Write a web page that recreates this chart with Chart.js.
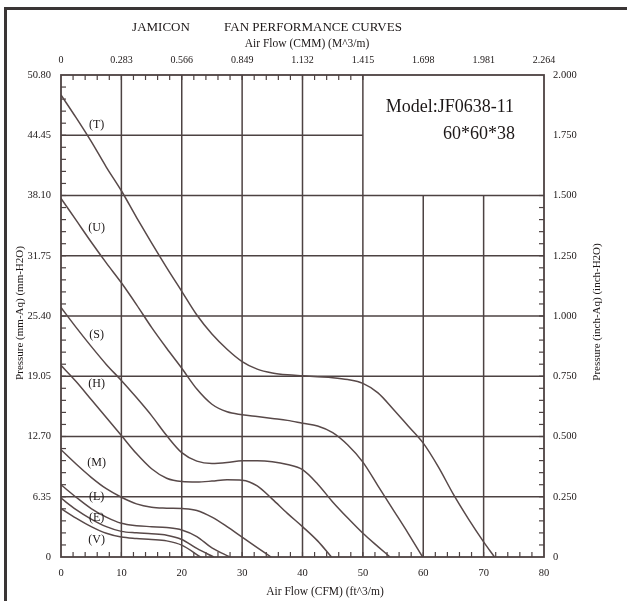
<!DOCTYPE html>
<html>
<head>
<meta charset="utf-8">
<title>JAMICON Fan Performance Curves</title>
<style>
    html, body { margin: 0; padding: 0; background: #fff; }
    #wrap { width: 627px; height: 601px; position: relative; }
</style>
</head>
<body>
<div id="wrap"><canvas id="fanChart" width="627" height="601"></canvas></div>
<script src="https://cdn.jsdelivr.net/npm/chart.js@4.4.1/dist/chart.umd.min.js"></script>
<script>
// Tick values and labels
const cfmTicks = [0, 10, 20, 30, 40, 50, 60, 70, 80];
const cfmLabels = ['0', '10', '20', '30', '40', '50', '60', '70', '80'];
const cmmLabels = ['0', '0.283', '0.566', '0.849', '1.132', '1.415', '1.698', '1.981', '2.264'];
const mmTicks = [0, 6.35, 12.70, 19.05, 25.40, 31.75, 38.10, 44.45, 50.80];
const mmLabels = ['0', '6.35', '12.70', '19.05', '25.40', '31.75', '38.10', '44.45', '50.80'];
const inchLabels = ['0', '0.250', '0.500', '0.750', '1.000', '1.250', '1.500', '1.750', '2.000'];

// Curves: air flow (CFM) and static pressure (mm-Aq)
const tFlow = [0, 2.5, 5, 7.5, 10, 12.5, 15, 17.5, 20, 22.5, 25, 27.5, 30, 32.5, 35, 37.5, 40, 42.5, 45, 47.5, 50, 52.5, 55, 57.5, 60, 62.5, 65, 67.5, 70, 71.8];
const tPres = [48.7, 46.3, 43.8, 41.1, 38.6, 35.8, 33.1, 30.5, 28.0, 25.5, 23.5, 21.9, 20.6, 19.8, 19.4, 19.2, 19.1, 19.0, 18.9, 18.7, 18.3, 17.3, 15.6, 13.8, 12.0, 9.5, 6.6, 4.0, 1.6, 0];
const uFlow = [0, 2.5, 5, 7.5, 10, 12.5, 15, 17.5, 20, 22.5, 25, 27.5, 30, 32.5, 35, 37.5, 40, 42.5, 45, 47.5, 50, 52.5, 55, 57.5, 59.9];
const uPres = [37.8, 35.5, 33.2, 31.0, 28.9, 26.6, 24.2, 22.0, 19.9, 17.7, 16.1, 15.3, 15.0, 14.8, 14.6, 14.4, 14.1, 13.8, 13.1, 11.8, 10.0, 7.5, 5.0, 2.5, 0];
const sFlow = [0, 2.5, 5, 7.5, 10, 12.5, 15, 17.5, 20, 22.5, 25, 27.5, 30, 32.5, 35, 37.5, 40, 42.5, 45, 47.5, 50, 52.5, 54.5];
const sPres = [26.3, 24.2, 22.2, 20.3, 18.6, 16.8, 14.9, 12.8, 11.0, 10.1, 9.85, 9.95, 10.15, 10.15, 10.05, 9.75, 9.2, 7.7, 5.8, 4.1, 2.5, 1.1, 0];
const hFlow = [0, 2.5, 5, 7.5, 10, 12.5, 15, 17.5, 20, 22.5, 25, 27.5, 30, 32.5, 35, 37.5, 40, 42.5, 44.8];
const hPres = [20.2, 18.5, 16.6, 14.7, 12.8, 10.9, 9.3, 8.3, 7.95, 7.9, 8.0, 8.15, 8.1, 7.5, 6.1, 4.6, 3.2, 1.7, 0];
const mFlow = [0, 2.5, 5, 7.5, 10, 12.5, 15, 17.5, 20, 22.5, 25, 27.5, 30, 32.5, 34.8];
const mPres = [11.3, 9.8, 8.4, 7.2, 6.3, 5.6, 5.25, 5.15, 5.1, 4.9, 4.2, 3.2, 2.1, 1.0, 0];
const lFlow = [0, 2.5, 5, 7.5, 10, 12.5, 15, 17.5, 20, 22.5, 25, 28];
const lPres = [7.6, 6.3, 5.1, 4.2, 3.55, 3.3, 3.2, 3.1, 2.85, 2.15, 0.95, 0];
const eFlow = [0, 2.5, 5, 7.5, 10, 12.5, 15, 17.5, 20, 22.5, 25.3];
const ePres = [6.2, 5.0, 4.0, 3.2, 2.7, 2.55, 2.45, 2.3, 1.85, 0.9, 0];
const vFlow = [0, 2.5, 5, 7.5, 10, 12.5, 15, 17.5, 20, 23.1];
const vPres = [5.1, 4.1, 3.2, 2.5, 2.1, 1.95, 1.85, 1.7, 1.25, 0];

const curveNames = ['T', 'U', 'S', 'H', 'M', 'L', 'E', 'V'];
const curveFlows = [tFlow, uFlow, sFlow, hFlow, mFlow, lFlow, eFlow, vFlow];
const curvePress = [tPres, uPres, sPres, hPres, mPres, lPres, ePres, vPres];

// Styles
const serif = "'Liberation Serif', 'DejaVu Serif', serif";
const textColor = '#1c1717';
const gridColor = '#4d4242';
const curveColor = '#584949';

// Where the "(T)" etc. tags sit, in chart units
const tagFlow = 5.9;
const tagPres = [45.5, 34.7, 23.4, 18.3, 9.9, 6.3, 4.1, 1.8];

function fixedTicks(values) {
    return function(scale) {
        scale.ticks = values.map(v => ({ value: v }));
    };
}

const datasets = curveNames.map((name, i) => ({
    label: name,
    data: curveFlows[i].map((f, j) => ({ x: f, y: curvePress[i][j] })),
    borderColor: curveColor,
    borderWidth: 1.5,
    pointRadius: 0,
    fill: false,
    cubicInterpolationMode: 'monotone',
    xAxisID: 'x',
    yAxisID: 'y'
}));

// Grid, minor ticks, frame and all free text
const fanPlugin = {
    id: 'fanPlugin',
    beforeDatasetsDraw(chart) {
        const { ctx, scales: { x, y } } = chart;
        const line = (x1, y1, x2, y2) => {
            ctx.beginPath();
            ctx.moveTo(x1, y1);
            ctx.lineTo(x2, y2);
            ctx.stroke();
        };
        ctx.save();
        ctx.strokeStyle = gridColor;
        ctx.lineWidth = 1.5;

        // the model box in the upper right has no grid
        const boxLeft = x.getPixelForValue(50);
        const boxBottom = y.getPixelForValue(38.1);

        cfmTicks.slice(1, -1).forEach(v => {
            const px = x.getPixelForValue(v);
            line(px, v > 50 ? boxBottom : y.top, px, y.bottom);
        });
        mmTicks.slice(1, -1).forEach(v => {
            const py = y.getPixelForValue(v);
            line(x.left, py, v > 38.1 ? boxLeft : x.right, py);
        });

        // minor ticks
        ctx.lineWidth = 1.2;
        const len = 5;
        for (let i = 1; i < 40; i++) {
            const px = x.getPixelForValue(i * 2);
            line(px, y.bottom, px, y.bottom - len);
            if (i * 2 <= 50) line(px, y.top, px, y.top + len);
            const py = y.getPixelForValue(i * 1.27);
            line(x.left, py, x.left + len, py);
            if (i * 1.27 <= 38.1) line(x.right, py, x.right - len, py);
        }
        ctx.restore();
    },
    afterDatasetsDraw(chart) {
        const { ctx, chartArea: a } = chart;
        ctx.save();
        ctx.strokeStyle = gridColor;
        ctx.lineWidth = 1.8;
        ctx.strokeRect(a.left, a.top, a.right - a.left, a.bottom - a.top);
        ctx.restore();
    },
    afterDraw(chart) {
        const { ctx, scales: { x, y } } = chart;
        ctx.save();

        // scan frame
        ctx.fillStyle = '#3a3535';
        ctx.fillRect(4, 7, 623, 3);
        ctx.fillRect(4, 7, 3, 594);

        ctx.fillStyle = textColor;
        ctx.textBaseline = 'middle';
        ctx.textAlign = 'center';

        ctx.font = '13px ' + serif;
        ctx.fillText('JAMICON', 161, 28);
        ctx.fillText('FAN PERFORMANCE CURVES', 313, 28);

        ctx.font = '11.5px ' + serif;
        ctx.fillText('Air Flow (CMM) (M^3/m)', 307, 44);
        ctx.fillText('Air Flow (CFM) (ft^3/m)', 325, 592);

        ctx.font = '11px ' + serif;
        ctx.save();
        ctx.translate(20, 313);
        ctx.rotate(-Math.PI / 2);
        ctx.fillText('Pressure (mm-Aq) (mm-H2O)', 0, 0);
        ctx.restore();

        ctx.save();
        ctx.translate(597, 312);
        ctx.rotate(-Math.PI / 2);
        ctx.fillText('Pressure (inch-Aq) (inch-H2O)', 0, 0);
        ctx.restore();

        // model
        ctx.font = '18px ' + serif;
        ctx.textAlign = 'right';
        ctx.textBaseline = 'alphabetic';
        ctx.fillText('Model:JF0638-11', 514, 112);
        ctx.fillText('60*60*38', 515, 139);

        // curve tags
        ctx.font = '12px ' + serif;
        ctx.textAlign = 'center';
        ctx.textBaseline = 'middle';
        curveNames.forEach((name, i) => {
            ctx.fillText('(' + name + ')', x.getPixelForValue(tagFlow), y.getPixelForValue(tagPres[i]));
        });
        ctx.restore();
    }
};

const noGrid = { display: false, drawTicks: false };

new Chart(document.getElementById('fanChart'), {
    type: 'line',
    data: { datasets: datasets },
    options: {
        responsive: false,
        devicePixelRatio: 1,
        animation: false,
        events: [],
        layout: { padding: 0 },
        plugins: {
            legend: { display: false },
            tooltip: { enabled: false }
        },
        scales: {
            x: {
                type: 'linear',
                position: 'bottom',
                min: 0,
                max: 80,
                afterBuildTicks: fixedTicks(cfmTicks),
                afterFit: s => { s.height = 44; },
                grid: noGrid,
                border: { display: false },
                ticks: {
                    autoSkip: false,
                    maxRotation: 0,
                    padding: 10,
                    color: textColor,
                    font: { family: serif, size: 10.5 },
                    callback: (v, i) => cfmLabels[i]
                }
            },
            xTop: {
                type: 'linear',
                position: 'top',
                min: 0,
                max: 80,
                afterBuildTicks: fixedTicks(cfmTicks),
                afterFit: s => { s.height = 75; },
                grid: noGrid,
                border: { display: false },
                ticks: {
                    autoSkip: false,
                    maxRotation: 0,
                    padding: 9,
                    color: textColor,
                    font: { family: serif, size: 10 },
                    callback: (v, i) => cmmLabels[i]
                }
            },
            y: {
                type: 'linear',
                position: 'left',
                min: 0,
                max: 50.8,
                afterBuildTicks: fixedTicks(mmTicks),
                afterFit: s => { s.width = 61; },
                grid: noGrid,
                border: { display: false },
                ticks: {
                    autoSkip: false,
                    padding: 10,
                    color: textColor,
                    font: { family: serif, size: 10.5 },
                    callback: (v, i) => mmLabels[i]
                }
            },
            yRight: {
                type: 'linear',
                position: 'right',
                min: 0,
                max: 50.8,
                afterBuildTicks: fixedTicks(mmTicks),
                afterFit: s => { s.width = 83; },
                grid: noGrid,
                border: { display: false },
                ticks: {
                    autoSkip: false,
                    padding: 9,
                    color: textColor,
                    font: { family: serif, size: 10.5 },
                    callback: (v, i) => inchLabels[i]
                }
            }
        }
    },
    plugins: [fanPlugin]
});
</script>
</body>
</html>
